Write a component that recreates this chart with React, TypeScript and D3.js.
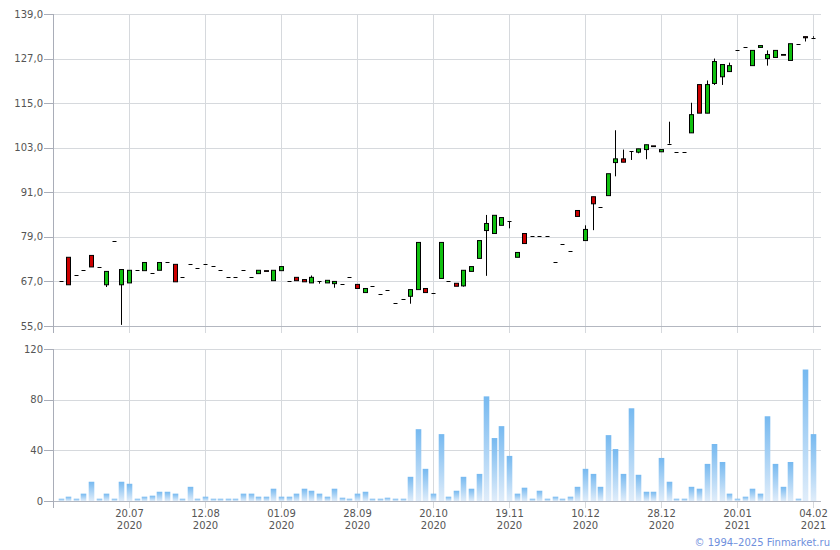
import { useEffect, useRef } from 'react';
import * as d3 from 'd3';

// OHLC per bar (index based, trading days)
const opens = [
  67.0, 73.5, 68.6, 70.0, 74.0, 71.0, 66.1, 77.8, 66.1, 66.6,
  70.0, 69.9, 69.2, 70.0, 72.1, 71.6, 68.1, 71.6, 70.5, 71.6,
  71.2, 70.0, 68.1, 68.1, 70.0, 68.1, 69.1, 69.9, 67.2, 69.9,
  67.0, 68.1, 67.5, 66.6, 67.0, 66.6, 66.4, 66.2, 68.1, 66.2,
  64.0, 65.9, 63.5, 64.6, 61.1, 62.2, 63.0, 64.8, 65.1, 64.0,
  67.8, 67.0, 66.5, 65.8, 69.7, 73.2, 80.7, 79.9, 82.1, 83.2,
  73.5, 79.9, 79.1, 79.1, 79.1, 72.1, 77.2, 75.1, 86.1, 78.0,
  89.8, 87.1, 90.1, 99.0, 100.0, 102.1, 101.8, 102.5, 103.5, 101.9,
  104.1, 101.9, 101.9, 107.0, 120.0, 112.3, 120.3, 122.1, 123.5, 129.2,
  130.0, 125.1, 130.0, 127.0, 127.3, 128.1, 126.5, 130.8, 132.9, 132.6,
];
const closes = [
  67.0, 66.1, 68.6, 70.0, 70.9, 71.0, 69.7, 77.8, 70.2, 70.0,
  70.0, 72.1, 69.2, 72.1, 72.1, 66.9, 68.1, 71.6, 70.5, 71.6,
  71.2, 70.0, 68.1, 68.1, 70.0, 68.1, 70.0, 69.7, 70.0, 71.0,
  67.0, 67.2, 66.9, 68.1, 67.0, 67.3, 67.0, 66.2, 68.1, 65.1,
  65.1, 65.9, 63.5, 64.6, 61.1, 62.2, 64.8, 77.5, 64.0, 64.0,
  77.5, 67.0, 65.7, 70.0, 71.0, 78.0, 82.6, 84.8, 84.2, 83.2,
  74.8, 77.2, 79.1, 79.1, 79.1, 72.1, 77.2, 75.1, 84.5, 81.0,
  87.9, 87.1, 96.0, 100.0, 99.1, 102.1, 102.7, 103.8, 103.3, 102.5,
  104.1, 101.9, 101.9, 111.9, 112.3, 120.0, 126.2, 125.4, 125.1, 129.2,
  130.0, 129.2, 130.5, 128.1, 129.2, 127.9, 131.0, 130.8, 132.6, 132.6,
];
// only the bars with visible wicks differ from max/min(open, close)
const highs: Record<number, number> = {
  33: 68.6, 56: 84.9, 69: 82.1, 73: 107.7, 74: 102.5, 80: 110.0,
  83: 115.1, 85: 121.1, 86: 127.0, 88: 125.9, 93: 129.2, 99: 133.0,
};
const lows: Record<number, number> = {
  6: 65.5, 8: 55.3, 34: 66.4, 36: 65.3, 46: 61.0, 53: 65.6, 56: 68.5,
  59: 81.3, 70: 80.8, 73: 95.3, 75: 99.7, 76: 101.5, 77: 99.9,
  86: 119.9, 87: 119.9, 93: 125.1, 98: 131.6,
};

const volumes = [
  1.8, 3.4, 1.8, 5.8, 15.2, 1.8, 5.8, 1.8, 15.2, 13.6,
  1.8, 3.4, 4.2, 7.3, 7.3, 5.8, 1.8, 11.2, 1.8, 3.4,
  1.8, 1.8, 1.8, 1.8, 5.8, 5.8, 3.4, 3.4, 9.7, 3.4,
  3.4, 5.8, 9.7, 8.1, 5.8, 3.4, 9.7, 2.6, 1.8, 5.8,
  7.3, 1.8, 1.8, 2.6, 1.8, 1.8, 19.1, 56.7, 25.4, 5.8,
  52.8, 3.4, 8.1, 19.1, 9.7, 21.4, 82.6, 49.7, 59.1, 35.6,
  5.8, 10.5, 1.8, 8.1, 1.8, 3.4, 1.8, 3.4, 11.2, 25.4,
  21.4, 11.2, 52.0, 41.0, 21.4, 73.2, 20.7, 7.3, 7.3, 34.0,
  15.2, 1.8, 1.8, 11.2, 9.7, 29.3, 45.0, 30.8, 5.8, 1.8,
  3.4, 9.7, 5.8, 66.9, 29.3, 11.2, 30.8, 1.8, 103.8, 52.8,
];

const tickIndex = [9, 19, 29, 39, 49, 59, 69, 79, 89, 99];
const tickDays = ['20.07', '12.08', '01.09', '28.09', '20.10', '19.11', '10.12', '28.12', '20.01', '04.02'];
const tickYears = ['2020', '2020', '2020', '2020', '2020', '2020', '2020', '2020', '2021', '2021'];
const priceTicks = [55, 67, 79, 91, 103, 115, 127, 139];
const volumeTicks = [0, 40, 80, 120];

const WIDTH = 840;
const HEIGHT = 550;

export default function App() {
  const svgRef = useRef<SVGSVGElement>(null);

  useEffect(() => {
    if (!svgRef.current) return;
    const svg = d3.select(svgRef.current);
    svg.selectAll('*').remove();

    const left = 53;
    const right = 821;
    const font = '"DejaVu Sans", Verdana, sans-serif';
    const gridColor = '#d6d9dd';
    const axisColor = '#a9adb8';
    const labelColor = '#555';

    const x = d3.scaleLinear().domain([-1, 100]).range([left, 820.6]);
    const yP = d3.scaleLinear().domain([55, 139]).range([326, 14]);
    const yV = d3.scaleLinear().domain([0, 120]).range([501, 349]);

    const defs = svg.append('defs');
    const grad = defs.append('linearGradient')
      .attr('id', 'volGrad')
      .attr('x1', 0).attr('y1', 0).attr('x2', 0).attr('y2', 1);
    grad.append('stop').attr('offset', '0%').attr('stop-color', '#76b9f0');
    grad.append('stop').attr('offset', '100%').attr('stop-color', '#e0edfa');

    const crisp = (v: number) => Math.round(v) + 0.5;

    // panels: grids + axes
    const panels = [
      { y: yP, ticks: priceTicks, fmt: (d: number) => d.toFixed(1).replace('.', ',') },
      { y: yV, ticks: volumeTicks, fmt: (d: number) => String(d) },
    ];

    panels.forEach(p => {
      const [bottom, top] = p.y.range();
      const g = svg.append('g');

      g.selectAll('line.h')
        .data(p.ticks.filter(t => t !== p.ticks[0]))
        .enter().append('line')
        .attr('x1', left).attr('x2', right)
        .attr('y1', d => crisp(p.y(d))).attr('y2', d => crisp(p.y(d)))
        .attr('stroke', gridColor);

      g.selectAll('line.v')
        .data(tickIndex)
        .enter().append('line')
        .attr('x1', d => crisp(x(d))).attr('x2', d => crisp(x(d)))
        .attr('y1', top).attr('y2', bottom + 7)
        .attr('stroke', gridColor);

      // left ticks and labels
      g.selectAll('line.t')
        .data(p.ticks)
        .enter().append('line')
        .attr('x1', left - 9).attr('x2', left)
        .attr('y1', d => crisp(p.y(d))).attr('y2', d => crisp(p.y(d)))
        .attr('stroke', axisColor);

      g.selectAll('text.t')
        .data(p.ticks)
        .enter().append('text')
        .attr('x', left - 10)
        .attr('y', d => p.y(d) + 3.5)
        .attr('text-anchor', 'end')
        .attr('font-family', font)
        .attr('font-size', 10)
        .attr('fill', labelColor)
        .text(d => p.fmt(d));

      g.append('line')
        .attr('x1', left).attr('x2', right)
        .attr('y1', crisp(bottom)).attr('y2', crisp(bottom))
        .attr('stroke', '#b3b7c0');

      g.append('line')
        .attr('x1', crisp(left)).attr('x2', crisp(left))
        .attr('y1', top).attr('y2', bottom + 7)
        .attr('stroke', axisColor);
    });

    // x tick labels under volume panel
    const xl = svg.append('g')
      .attr('font-family', font)
      .attr('font-size', 10)
      .attr('fill', labelColor)
      .attr('text-anchor', 'middle');
    xl.selectAll('text.d')
      .data(tickIndex)
      .enter().append('text')
      .attr('x', d => x(d) + 0.5)
      .attr('y', 517)
      .text((_, i) => tickDays[i]);
    xl.selectAll('text.yr')
      .data(tickIndex)
      .enter().append('text')
      .attr('x', d => x(d) + 0.5)
      .attr('y', 529)
      .text((_, i) => tickYears[i]);

    // volume bars
    svg.append('g')
      .selectAll('rect')
      .data(volumes)
      .enter().append('rect')
      .attr('x', (_, i) => Math.round(x(i)) - 2.3)
      .attr('width', 5.6)
      .attr('y', d => yV(d))
      .attr('height', d => yV(0) - yV(d))
      .attr('fill', 'url(#volGrad)');

    // candles
    const candles = opens.map((o, i) => {
      const c = closes[i];
      return {
        i, o, c,
        h: highs[i] ?? Math.max(o, c),
        l: lows[i] ?? Math.min(o, c),
      };
    });

    const cg = svg.append('g');
    candles.forEach(d => {
      const cx = Math.round(x(d.i));
      const top = Math.max(d.o, d.c);
      const bot = Math.min(d.o, d.c);
      if (d.h > top || d.l < bot) {
        cg.append('line')
          .attr('x1', cx + 0.5).attr('x2', cx + 0.5)
          .attr('y1', yP(d.h)).attr('y2', yP(d.l))
          .attr('stroke', '#000');
      }
      if (d.o === d.c) {
        cg.append('line')
          .attr('x1', cx - 1.5).attr('x2', cx + 2.5)
          .attr('y1', crisp(yP(d.o))).attr('y2', crisp(yP(d.o)))
          .attr('stroke', '#000');
      } else {
        cg.append('rect')
          .attr('x', cx - 1.5)
          .attr('width', 4)
          .attr('y', yP(top))
          .attr('height', yP(bot) - yP(top))
          .attr('fill', d.c >= d.o ? '#10c010' : '#cc0000')
          .attr('stroke', '#000')
          .attr('stroke-width', 1);
      }
    });

    svg.append('text')
      .attr('x', 830)
      .attr('y', 546)
      .attr('text-anchor', 'end')
      .attr('font-family', font)
      .attr('font-size', 10)
      .attr('fill', '#6f90dd')
      .text('© 1994–2025 Finmarket.ru');
  }, []);

  return (
    <svg
      ref={svgRef}
      width={WIDTH}
      height={HEIGHT}
      style={{ position: 'absolute', left: 0, top: 0, background: '#fff' }}
    />
  );
}
